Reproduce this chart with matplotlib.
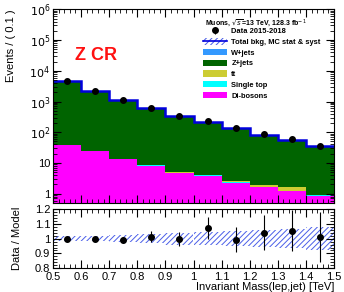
import matplotlib
matplotlib.use("Agg")
import matplotlib.pyplot as plt
import numpy as np
from matplotlib.ticker import MultipleLocator, LogLocator, NullFormatter, FixedLocator

plt.rcParams['font.family'] = ['Liberation Sans', 'DejaVu Sans']
plt.rcParams['hatch.color'] = '#4a5ee8'
plt.rcParams['hatch.linewidth'] = 0.7

# binning (TeV)
edges = [0.5, 0.6, 0.7, 0.8, 0.9, 1.0, 1.1, 1.2, 1.3, 1.4, 1.5]
centers = [0.55, 0.65, 0.75, 0.85, 0.95, 1.05, 1.15, 1.25, 1.35, 1.45]

# background yields per bin
total_bkg = [4500, 2200, 1100, 610, 345, 216, 138, 83, 58, 35]
dibosons = [38, 24, 13.5, 8.2, 4.75, 3.9, 2.3, 1.6, 1.2, 0.86]
single_top = [0.05, 0.05, 0.05, 0.3, 0.05, 0.05, 0.02, 0.02, 0.02, 0.02]
ttbar = [0.2, 0.2, 0.2, 0.2, 0.1, 0.1, 0.3, 0.35, 0.4, 0.02]
wjets = [0.3, 0.2, 0.2, 0.2, 0.1, 0.1, 0.02, 0.02, 0.02, 0.02]

# data / model
ratio = [1.0, 1.0, 0.99, 1.015, 0.997, 1.073, 0.993, 1.04, 1.055, 1.012]
ratio_err = [0.007, 0.01, 0.02, 0.04, 0.05, 0.072, 0.086, 0.12, 0.14, 0.17]
syst_band = [0.017, 0.017, 0.024, 0.03, 0.04, 0.045, 0.05, 0.057, 0.065, 0.08]

total_bkg = np.array(total_bkg)
data = total_bkg * np.array(ratio)
zjets = total_bkg - np.array(dibosons) - np.array(single_top) - np.array(ttbar) - np.array(wjets)

fig = plt.figure(figsize=(3.44, 2.92), dpi=100, facecolor='w')
ax = fig.add_axes([0.154, 0.305, 0.817, 0.663])
axr = fig.add_axes([0.154, 0.082, 0.817, 0.201])

# stacked histogram
stack = [(dibosons, '#ff00ff', 'Di-bosons'),
         (single_top, '#00ffff', 'Single top'),
         (ttbar, '#cccc33', 'tt'),
         (wjets, '#3399ff', 'W+jets'),
         (zjets, '#006400', 'Z+jets')]
bottom = np.full(len(centers), 1e-3)
handles = {}
for vals, col, lab in stack:
    top = bottom + np.array(vals)
    handles[lab] = ax.stairs(top, edges, baseline=bottom, fill=True, color=col,
                             linewidth=0)
    bottom = top

ax.stairs(total_bkg, edges, color='#0000dd', linewidth=1.8, baseline=None)
h_tot = ax.fill_between([0, 1], [0, 0], [0, 0], facecolor='none', hatch='//////',
                        edgecolor='#4a5ee8', linewidth=0)
h_line, = ax.plot([], [], color='#0000dd', linewidth=1.2)
h_data = ax.errorbar(centers, data, yerr=np.sqrt(data), fmt='o', color='k',
                     markersize=4, elinewidth=0.8, capsize=0)

ax.set_yscale('log')
ax.set_xlim(0.5, 1.5)
ax.set_ylim(0.5, 1e6)
ax.set_ylabel('Events / ( 0.1 )', fontsize=8, loc='top')
ax.yaxis.set_label_coords(-0.13, 1.0)
ax.set_xticklabels([])
ax.xaxis.set_major_locator(MultipleLocator(0.1))
ax.xaxis.set_minor_locator(MultipleLocator(0.02))
ax.yaxis.set_major_locator(FixedLocator([1, 10, 1e2, 1e3, 1e4, 1e5, 1e6]))
ax.yaxis.set_minor_locator(LogLocator(base=10, subs=np.arange(2, 10), numticks=20))
ax.yaxis.set_minor_formatter(NullFormatter())
ax.set_yticklabels(['1', '10', r'$10^2$', r'$10^3$', r'$10^4$', r'$10^5$', r'$10^6$'])
ax.tick_params(which='both', direction='in', top=True, right=True, labelsize=8, pad=2)
ax.tick_params(which='major', length=6)
ax.tick_params(which='minor', length=3)

ax.text(0.58, 2.2e4, 'Z CR', color='#ff1111', fontsize=13, fontweight='bold')

ax.text(1.04, 2.9e5, r'Muons, $\sqrt{s}$=13 TeV, 128.3 fb$^{-1}$', fontsize=5,
        fontweight='bold')
leg = ax.legend([h_data, (h_tot, h_line), handles['W+jets'], handles['Z+jets'],
                 handles['tt'], handles['Single top'], handles['Di-bosons']],
                ['Data 2015-2018', 'Total bkg, MC stat & syst', 'W+jets', 'Z+jets',
                 'tt', 'Single top', 'Di-bosons'],
                loc='upper left', bbox_to_anchor=(0.52, 0.925), frameon=False,
                handlelength=3.2, handleheight=0.9, labelspacing=0.4,
                borderpad=0, handletextpad=0.6, prop={'weight': 'bold', 'size': 5.4})

# ratio panel
axr.bar(centers, 2 * np.array(syst_band), width=0.1, bottom=1 - np.array(syst_band),
        facecolor='none', hatch='//////', edgecolor='#4a5ee8', linewidth=0)
axr.errorbar(centers, ratio, yerr=ratio_err, fmt='o', color='k', markersize=4,
             elinewidth=0.8, capsize=0)
axr.set_xlim(0.5, 1.5)
axr.set_ylim(0.8, 1.2)
axr.xaxis.set_major_locator(MultipleLocator(0.1))
axr.xaxis.set_minor_locator(MultipleLocator(0.02))
axr.yaxis.set_major_locator(MultipleLocator(0.1))
axr.yaxis.set_minor_locator(MultipleLocator(0.02))
axr.set_xticklabels(['%g' % v for v in axr.get_xticks()])
axr.set_yticklabels(['%g' % v for v in axr.get_yticks()])
axr.tick_params(which='both', direction='in', top=True, right=True, labelsize=8, pad=2)
axr.tick_params(axis='x', pad=3)
axr.tick_params(which='major', length=6)
axr.tick_params(which='minor', length=3)
axr.set_ylabel('Data / Model', fontsize=8)
axr.yaxis.set_label_coords(-0.11, 0.5)
axr.set_xlabel('Invariant Mass(lep,jet) [TeV]', fontsize=8, loc='right', labelpad=0)

plt.savefig('out.png', dpi=100)
